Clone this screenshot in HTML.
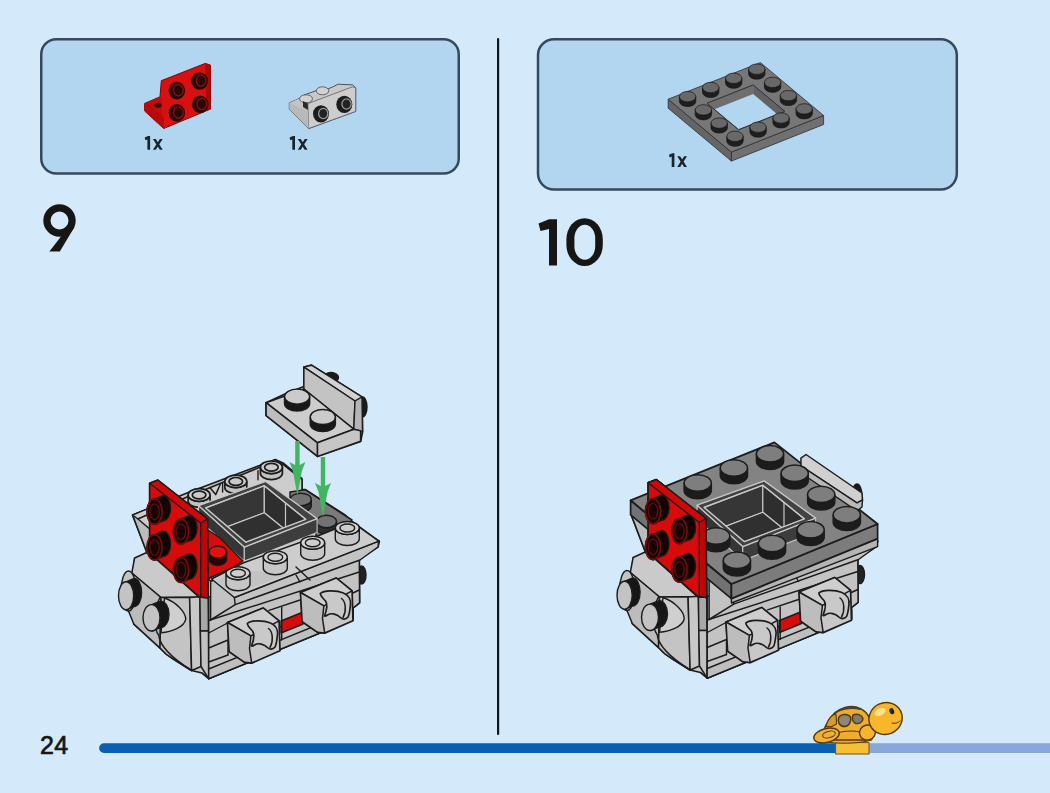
<!DOCTYPE html>
<html><head><meta charset="utf-8"><title>Instructions page 24</title>
<style>
html,body{margin:0;padding:0;width:1050px;height:793px;overflow:hidden;background:#d4eafa}
svg{display:block;font-family:"Liberation Sans",sans-serif}
</style></head><body>
<svg width="1050" height="793" viewBox="0 0 1050 793">
<rect width="1050" height="793" fill="#d4eafa"/>
<!-- parts boxes -->
<rect x="41.25" y="39.25" width="417.5" height="134.2" rx="15" fill="#b2d5f0" stroke="#34495a" stroke-width="2.5"/>
<rect x="538" y="39.25" width="418.8" height="150.2" rx="16" fill="#b2d5f0" stroke="#34495a" stroke-width="2.5"/>
<!-- divider -->
<rect x="497" y="38" width="2.2" height="697" rx="1" fill="#0d1820"/>
<!-- bottom bar -->
<path d="M104 743.2 H835.5 V753 H104 A4.9 4.9 0 0 1 104 743.2Z" fill="#0b5fb0"/>
<rect x="869" y="743.2" width="181" height="9.8" fill="#88a8dc"/>
<!-- page number -->
<text x="40" y="754" font-size="25" fill="#161616" stroke="#161616" stroke-width="0.7" letter-spacing="0.3">24</text>


<!-- part A: red bracket -->
<g id="partA" stroke-linejoin="round">
  <path d="M144.7 103.4 L160 96.8 L161.3 80.7 L205.3 63.4 L210.5 65.1 L210.5 109.1 L163.7 128.5 L144.7 111 Z" fill="#d81010" stroke="#7a0606" stroke-width="1"/>
  <path d="M144.7 103.4 L160 96.8 L162 98.5 L162.5 127.5 L163.7 128.5 L144.7 111 Z" fill="#c40c0c"/>
  <path d="M144.7 103.4 L147 102.5 L164 118 L163.7 128.5 L144.7 111 Z" fill="#b80a0a"/>
  <path d="M205.3 63.4 L210.5 65.1 L210.5 109.1 L206.2 111 Z" fill="#b00808"/>
  <ellipse cx="158" cy="105.3" rx="3.5" ry="2.5" fill="#3a0808"/>
  <g fill="#2a0606">
    <ellipse cx="176.8" cy="90.6" rx="8.3" ry="8.8"/>
    <ellipse cx="199.6" cy="81" rx="8.3" ry="8.8"/>
    <ellipse cx="176.8" cy="112.9" rx="8.3" ry="8.8"/>
    <ellipse cx="200.3" cy="104.4" rx="8.3" ry="8.8"/>
  </g>
  <g fill="none" stroke="#8a1010" stroke-width="1.3">
    <ellipse cx="178.3" cy="90.2" rx="4.8" ry="5.6"/>
    <ellipse cx="201.1" cy="80.6" rx="4.8" ry="5.6"/>
    <ellipse cx="178.3" cy="112.5" rx="4.8" ry="5.6"/>
    <ellipse cx="201.8" cy="104" rx="4.8" ry="5.6"/>
  </g>
</g>
<!-- part B: light gray bracket -->
<g id="partB" stroke-linejoin="round">
  <path d="M289.3 102.9 L301.4 97.5 L304 95 L318 90 L322 91.5 L333 86.8 L338 84.2 L344 84.5 L352.5 84.8 L355.7 87.9 L355.7 111.4 L308.6 128.6 L289.3 109.3 Z" fill="#c8c8c8" stroke="#4a5560" stroke-width="1"/>
  <path d="M307.9 103.6 L352.5 86.8 L355.7 87.9 L355.7 111.4 L308.6 128.6 Z" fill="#cdcdcd" stroke="#56606a" stroke-width="0.8"/>
  <path d="M289.3 102.9 L307.9 110.8 L308.6 128.6 L289.3 109.3 Z" fill="#b9b9b9"/>
  <path d="M289.3 102.9 L301.4 97.5 L307.9 103.6 L307.9 110.8 Z" fill="#c4c4c4"/>
  <ellipse cx="306" cy="98.8" rx="6.5" ry="4" fill="#d2d2d2" stroke="#4a4a4a" stroke-width="0.8"/>
  <ellipse cx="322.5" cy="90.8" rx="6.3" ry="4" fill="#d2d2d2" stroke="#4a4a4a" stroke-width="0.8"/>
  <path d="M303 101 L307.9 103.6 L307.9 110 L303 107 Z" fill="#2a2a2a"/>
  <g fill="#1c1c1c">
    <ellipse cx="321" cy="113.8" rx="8" ry="8.6"/>
    <ellipse cx="344.3" cy="104.3" rx="8" ry="8.6"/>
  </g>
  <g fill="#222" stroke="#9a9a9a" stroke-width="1.3">
    <ellipse cx="323.2" cy="113.5" rx="4.6" ry="5.2"/>
    <ellipse cx="346.5" cy="104" rx="4.6" ry="5.2"/>
  </g>
</g>

<!-- step numbers -->
<g id="num9" fill="#161616">
  <circle cx="59.5" cy="220.5" r="12.6" fill="none" stroke="#161616" stroke-width="7.2"/>
  <path d="M66 230 L74.5 227 L59.8 251.6 L49.4 251.6 Z"/>
</g>
<g id="num10" fill="#161616">
  <path d="M549 219.2 H557 V265.5 H549 V229 L540.5 231 L538.5 223.6 Z"/>
  <rect x="566.4" y="218.2" width="36.4" height="47.8" rx="18.2" ry="21" fill="#161616"/>
  <rect x="574.4" y="224.8" width="20.8" height="35" rx="10.4" ry="13.5" fill="#d4eafa"/>
</g>

<!-- 1x labels -->
<defs>
<g id="onex" fill="#18232d">
  <path d="M0 1.6 L3.4 0 H5.4 V13.7 H2.7 V3.4 L0.7 4.2 Z"/>
  <path d="M8.2 3.1 H11.1 L18 13.7 H15.1 Z"/>
  <path d="M15.2 3.1 H18 L11.1 13.7 H8.2 Z"/>
</g>
</defs>
<use href="#onex" x="144.7" y="136"/>
<use href="#onex" x="289.6" y="136"/>
<use href="#onex" x="669" y="153.2"/>


<polygon points="668.2,99.2 731.4,152.1 731.4,161.1 668.2,108.2" fill="#656565" stroke="#2a2f35" stroke-width="0.8" stroke-linejoin="round"/>
<polygon points="731.4,152.1 823.6,115.5 823.6,124.5 731.4,161.1" fill="#707070" stroke="#2a2f35" stroke-width="0.8" stroke-linejoin="round"/>
<path d="M668.2 99.2 L760.4 62.6 L823.6 115.5 L731.4 152.1 Z M707.0 103.3 L753.1 85.0 L784.8 111.4 L738.6 129.7 Z" fill="#777777" fill-rule="evenodd" stroke="#2a2f35" stroke-width="0.8" stroke-linejoin="round"/>
<clipPath id="holeC"><polygon points="707,103.3 753.1,85 784.8,111.4 738.6,129.7"/></clipPath>
<g clip-path="url(#holeC)">
<polygon points="707,103.3 753.1,85 753.1,94 707,112.3" fill="#6e6e6e"/>
<polygon points="753.1,85 784.8,111.4 784.8,120.4 753.1,94" fill="#626262"/>
</g>
<polygon points="707,103.3 753.1,85 784.8,111.4 738.6,129.7" fill="none" stroke="#2a2f35" stroke-width="0.8"/>
<path d="M748.6 69.2 A8.2 5.2 0 0 0 765 69.2 V74 A8.2 5.2 0 0 1 748.6 74 Z" fill="#1e1e1e" stroke="#151515" stroke-width="0.7"/>
<ellipse cx="756.8" cy="69.2" rx="8.2" ry="5.2" fill="#686868" stroke="#151515" stroke-width="0.7"/>
<path d="M725.5 78.3 A8.2 5.2 0 0 0 741.9 78.3 V83.1 A8.2 5.2 0 0 1 725.5 83.1 Z" fill="#1e1e1e" stroke="#151515" stroke-width="0.7"/>
<ellipse cx="733.7" cy="78.3" rx="8.2" ry="5.2" fill="#686868" stroke="#151515" stroke-width="0.7"/>
<path d="M764.4 82.4 A8.2 5.2 0 0 0 780.8 82.4 V87.2 A8.2 5.2 0 0 1 764.4 87.2 Z" fill="#1e1e1e" stroke="#151515" stroke-width="0.7"/>
<ellipse cx="772.6" cy="82.4" rx="8.2" ry="5.2" fill="#686868" stroke="#151515" stroke-width="0.7"/>
<path d="M702.5 87.5 A8.2 5.2 0 0 0 718.9 87.5 V92.3 A8.2 5.2 0 0 1 702.5 92.3 Z" fill="#1e1e1e" stroke="#151515" stroke-width="0.7"/>
<ellipse cx="710.7" cy="87.5" rx="8.2" ry="5.2" fill="#686868" stroke="#151515" stroke-width="0.7"/>
<path d="M780.2 95.6 A8.2 5.2 0 0 0 796.6 95.6 V100.4 A8.2 5.2 0 0 1 780.2 100.4 Z" fill="#1e1e1e" stroke="#151515" stroke-width="0.7"/>
<ellipse cx="788.4" cy="95.6" rx="8.2" ry="5.2" fill="#686868" stroke="#151515" stroke-width="0.7"/>
<path d="M679.4 96.6 A8.2 5.2 0 0 0 695.8 96.6 V101.4 A8.2 5.2 0 0 1 679.4 101.4 Z" fill="#1e1e1e" stroke="#151515" stroke-width="0.7"/>
<ellipse cx="687.6" cy="96.6" rx="8.2" ry="5.2" fill="#686868" stroke="#151515" stroke-width="0.7"/>
<path d="M796 108.9 A8.2 5.2 0 0 0 812.4 108.9 V113.7 A8.2 5.2 0 0 1 796 113.7 Z" fill="#1e1e1e" stroke="#151515" stroke-width="0.7"/>
<ellipse cx="804.2" cy="108.9" rx="8.2" ry="5.2" fill="#686868" stroke="#151515" stroke-width="0.7"/>
<path d="M695.2 109.9 A8.2 5.2 0 0 0 711.6 109.9 V114.7 A8.2 5.2 0 0 1 695.2 114.7 Z" fill="#1e1e1e" stroke="#151515" stroke-width="0.7"/>
<ellipse cx="703.4" cy="109.9" rx="8.2" ry="5.2" fill="#686868" stroke="#151515" stroke-width="0.7"/>
<path d="M772.9 118 A8.2 5.2 0 0 0 789.3 118 V122.8 A8.2 5.2 0 0 1 772.9 122.8 Z" fill="#1e1e1e" stroke="#151515" stroke-width="0.7"/>
<ellipse cx="781.1" cy="118" rx="8.2" ry="5.2" fill="#686868" stroke="#151515" stroke-width="0.7"/>
<path d="M711 123.1 A8.2 5.2 0 0 0 727.4 123.1 V127.9 A8.2 5.2 0 0 1 711 127.9 Z" fill="#1e1e1e" stroke="#151515" stroke-width="0.7"/>
<ellipse cx="719.2" cy="123.1" rx="8.2" ry="5.2" fill="#686868" stroke="#151515" stroke-width="0.7"/>
<path d="M749.9 127.2 A8.2 5.2 0 0 0 766.3 127.2 V132 A8.2 5.2 0 0 1 749.9 132 Z" fill="#1e1e1e" stroke="#151515" stroke-width="0.7"/>
<ellipse cx="758.1" cy="127.2" rx="8.2" ry="5.2" fill="#686868" stroke="#151515" stroke-width="0.7"/>
<path d="M726.8 136.3 A8.2 5.2 0 0 0 743.2 136.3 V141.1 A8.2 5.2 0 0 1 726.8 141.1 Z" fill="#1e1e1e" stroke="#151515" stroke-width="0.7"/>
<ellipse cx="735" cy="136.3" rx="8.2" ry="5.2" fill="#686868" stroke="#151515" stroke-width="0.7"/>
<ellipse cx="361.5" cy="575" rx="4.5" ry="9" fill="#222" stroke="#1c1c1c" stroke-width="1.4"/>
<polygon points="132.6,515.1 187,493 275.3,459.5 283,463 302,478.6 302,489.5 305,489.5 344.7,514.7 358,528 379.3,541.3 378,547 359.3,558.7 359.6,602.8 353,608 353,619.4 208.7,678.7 202,673 191.6,670.5 182,664.5 173.6,659.2 166,654 160,648 133.8,624 133.6,569.6 134.7,558.5 147.3,553.4" fill="#c8c8c8" stroke="#1c1c1c" stroke-width="1.7" stroke-linejoin="round"/>
<polygon points="134.6,558 150,551 199.9,590 199.9,597 161,597.5 131.8,573" fill="#cacaca" stroke="#1c1c1c" stroke-width="1.5" stroke-linejoin="round"/>
<polygon points="131.8,573 161,597.5 160,648 133.8,624 124,600" fill="#bcbcbc" stroke="#1c1c1c" stroke-width="1.5" stroke-linejoin="round"/>
<polygon points="161,597.5 189.6,597.5 191.6,670.5 182,664.5 173.6,659.2 166,654 160,648" fill="#c4c4c4" stroke="#1c1c1c" stroke-width="1.5" stroke-linejoin="round"/>
<polygon points="189.6,597.5 199.9,596.8 201,666.5 191.6,670.5" fill="#c8c8c8" stroke="#1c1c1c" stroke-width="1.5" stroke-linejoin="round"/>
<polygon points="199.9,596.8 208.2,597 208.5,631 200.3,631" fill="#a8a8a8" stroke="#1c1c1c" stroke-width="1.5" stroke-linejoin="round"/>
<polygon points="200.3,631 208.5,631 208.7,678.7 201,666.5" fill="#c2c2c2" stroke="#1c1c1c" stroke-width="1.5" stroke-linejoin="round"/>
<path d="M160 597.5 C154 608 153 628 158.8 635.4 C160 648 175 660 191.6 670.5" fill="none" stroke="#1c1c1c" stroke-width="1.5" stroke-linejoin="round" stroke-linecap="round"/>
<path d="M164.5 598 C176 602 186 612 185.7 619.5 C184 627 172 632 161 632.7 Z" fill="#cfcfcf" stroke="#1c1c1c" stroke-width="1.4" stroke-linejoin="round" stroke-linecap="round"/>
<ellipse cx="128.5" cy="591" rx="7.5" ry="20" fill="#c4c4c4" stroke="#1c1c1c" stroke-width="1.4"/>
<path d="M126.1 581.8 L134 578.5 A7.6 14 0 0 1 134 606.5 L126.1 609.8 A7.6 14 0 0 0 126.1 581.8 Z" fill="#161616" stroke="#1c1c1c" stroke-width="1.4"/>
<ellipse cx="126.1" cy="595.8" rx="7.6" ry="14" fill="#c3c3c3" stroke="#1c1c1c" stroke-width="1.4"/>
<path d="M151.5 604.6 L160.5 601.1 A8.5 13.2 0 0 1 160.5 627.5 L151.5 631 A8.5 13.2 0 0 0 151.5 604.6 Z" fill="#161616" stroke="#1c1c1c" stroke-width="1.4"/>
<ellipse cx="151.5" cy="617.8" rx="8.5" ry="13.2" fill="#c3c3c3" stroke="#1c1c1c" stroke-width="1.4"/>
<polygon points="132.6,515.1 150,508 150,553.4 147.3,553.4" fill="#bcbcbc" stroke="#1c1c1c" stroke-width="1.5" stroke-linejoin="round"/>
<polygon points="132.6,515.1 146,509.5 152,513 138,519" fill="#cdcdcd" stroke="#1c1c1c" stroke-width="1.3" stroke-linejoin="round"/>
<polygon points="208.7,597 359.3,558.7 359.6,602.8 353,608 353,619.4 208.7,678.7" fill="#c3c3c3" stroke="#1c1c1c" stroke-width="1.5" stroke-linejoin="round"/>
<polyline points="208.7,620.5 359.3,572" fill="none" stroke="#1c1c1c" stroke-width="1.4" stroke-linejoin="round" stroke-linecap="round"/>
<polyline points="208.7,633 227.5,623" fill="none" stroke="#1c1c1c" stroke-width="1.4" stroke-linejoin="round" stroke-linecap="round"/>
<polyline points="269,610.3 300,600" fill="none" stroke="#1c1c1c" stroke-width="1.4" stroke-linejoin="round" stroke-linecap="round"/>
<polyline points="208.7,648 228,640" fill="none" stroke="#1c1c1c" stroke-width="1.4" stroke-linejoin="round" stroke-linecap="round"/>
<polyline points="208.7,662 228,655" fill="none" stroke="#1c1c1c" stroke-width="1.4" stroke-linejoin="round" stroke-linecap="round"/>
<polyline points="228,640 228,655" fill="none" stroke="#1c1c1c" stroke-width="1.4" stroke-linejoin="round" stroke-linecap="round"/>
<polyline points="278,628 359.3,590" fill="none" stroke="#1c1c1c" stroke-width="1.4" stroke-linejoin="round" stroke-linecap="round"/>
<polygon points="208.7,669 353,610.5 353,619.4 208.7,678.7" fill="#bfbfbf" stroke="#1c1c1c" stroke-width="1.4" stroke-linejoin="round"/>
<polygon points="281,621 302,612.5 303,624 281,633" fill="#d80b0b" stroke="#1c1c1c" stroke-width="1.4" stroke-linejoin="round"/>
<polyline points="281.7,607.5 281.7,640" fill="none" stroke="#1c1c1c" stroke-width="1.4" stroke-linejoin="round" stroke-linecap="round"/>
<polygon points="227.5,622.5 263.2,608 279.1,620.8 280,650.8 251.7,663.1 244.6,662.3 229.2,651.7" fill="#c8c8c8" stroke="#1c1c1c" stroke-width="1.7" stroke-linejoin="round"/>
<polygon points="227.5,622.5 263.2,608 279.1,620.8 250.9,635.8" fill="#cecece" stroke="#1c1c1c" stroke-width="1.5" stroke-linejoin="round"/>
<polygon points="227.5,622.5 250.9,635.8 249.5,648.5 251.7,663.1 244.6,662.3 229.2,651.7" fill="#bdbdbd" stroke="#1c1c1c" stroke-width="1.5" stroke-linejoin="round"/>
<path d="M247.3 623.5 C250.5 620 263.5 620 270.5 623 C276 625.5 278 630.5 277.5 634.5 C277 639.5 276.5 644.5 275 647 C272.5 650 269.5 649.5 268 648 C264 644 258.5 642.5 254.5 645 C253 646 252 646.5 251.5 646 C254 639.5 255 634.5 252.5 631 C249.5 628 247.5 626 247.3 623.5 Z" fill="#c9c9c9" stroke="#1c1c1c" stroke-width="1.7" stroke-linejoin="round" stroke-linecap="round"/>
<path d="M268.5 628.5 C273 631.5 273.5 641.5 270 647.5" fill="none" stroke="#1c1c1c" stroke-width="1.5" stroke-linejoin="round" stroke-linecap="round"/>
<polygon points="300.5,592.5 336.2,578 352.1,590.8 353,620.8 324.7,633.1 317.6,632.3 302.2,621.7" fill="#c8c8c8" stroke="#1c1c1c" stroke-width="1.7" stroke-linejoin="round"/>
<polygon points="300.5,592.5 336.2,578 352.1,590.8 323.9,605.8" fill="#cecece" stroke="#1c1c1c" stroke-width="1.5" stroke-linejoin="round"/>
<polygon points="300.5,592.5 323.9,605.8 322.5,618.5 324.7,633.1 317.6,632.3 302.2,621.7" fill="#bdbdbd" stroke="#1c1c1c" stroke-width="1.5" stroke-linejoin="round"/>
<path d="M320.3 593.5 C323.5 590 336.5 590 343.5 593 C349 595.5 351 600.5 350.5 604.5 C350 609.5 349.5 614.5 348 617 C345.5 620 342.5 619.5 341 618 C337 614 331.5 612.5 327.5 615 C326 616 325 616.5 324.5 616 C327 609.5 328 604.5 325.5 601 C322.5 598 320.5 596 320.3 593.5 Z" fill="#c9c9c9" stroke="#1c1c1c" stroke-width="1.7" stroke-linejoin="round" stroke-linecap="round"/>
<path d="M341.5 598.5 C346 601.5 346.5 611.5 343 617.5" fill="none" stroke="#1c1c1c" stroke-width="1.5" stroke-linejoin="round" stroke-linecap="round"/>
<polygon points="210.6,581 378.8,541.1 378,547 360,560 235.2,604.6 210.6,620" fill="#c3c3c3" stroke="#1c1c1c" stroke-width="1.5" stroke-linejoin="round"/>
<polyline points="234.4,597.5 378.8,541.1" fill="none" stroke="#1c1c1c" stroke-width="1.4" stroke-linejoin="round" stroke-linecap="round"/>
<polyline points="235.2,604.6 234.4,597.5" fill="none" stroke="#1c1c1c" stroke-width="1.4" stroke-linejoin="round" stroke-linecap="round"/>
<polyline points="296,575 300,582" fill="none" stroke="#1c1c1c" stroke-width="1.4" stroke-linejoin="round" stroke-linecap="round"/>
<polygon points="138,519 187,497 275.3,461 283,464.5 302,479.5 302,490 345,516 378.8,541.1 210.6,581" fill="#cdcdcd" stroke="#1c1c1c" stroke-width="1.5" stroke-linejoin="round"/>
<path d="M188.1 495 A11 6.3 0 0 0 210.1 495 V501 A11 6.3 0 0 1 188.1 501 Z" fill="#c2c2c2" stroke="#1c1c1c" stroke-width="1.7"/>
<ellipse cx="199.1" cy="495" rx="11" ry="6.3" fill="#cfcfcf" stroke="#1c1c1c" stroke-width="1.7"/>
<ellipse cx="199.1" cy="495" rx="6.8" ry="3.9" fill="#cacaca" stroke="#1c1c1c" stroke-width="1.7"/>
<path d="M224.8 481.4 A11 6.3 0 0 0 246.8 481.4 V487.4 A11 6.3 0 0 1 224.8 487.4 Z" fill="#c2c2c2" stroke="#1c1c1c" stroke-width="1.7"/>
<ellipse cx="235.8" cy="481.4" rx="11" ry="6.3" fill="#cfcfcf" stroke="#1c1c1c" stroke-width="1.7"/>
<ellipse cx="235.8" cy="481.4" rx="6.8" ry="3.9" fill="#cacaca" stroke="#1c1c1c" stroke-width="1.7"/>
<path d="M260.4 467.3 A11 6.3 0 0 0 282.4 467.3 V473.3 A11 6.3 0 0 1 260.4 473.3 Z" fill="#c2c2c2" stroke="#1c1c1c" stroke-width="1.7"/>
<ellipse cx="271.4" cy="467.3" rx="11" ry="6.3" fill="#cfcfcf" stroke="#1c1c1c" stroke-width="1.7"/>
<ellipse cx="271.4" cy="467.3" rx="6.8" ry="3.9" fill="#cacaca" stroke="#1c1c1c" stroke-width="1.7"/>
<polyline points="210,487.7 215.7,494.6 220.3,484.3" fill="none" stroke="#1c1c1c" stroke-width="1.5" stroke-linejoin="round" stroke-linecap="round"/>
<polyline points="222.6,483 222.6,492" fill="none" stroke="#1c1c1c" stroke-width="1.4" stroke-linejoin="round" stroke-linecap="round"/>
<polyline points="258,470.6 258,479.7" fill="none" stroke="#1c1c1c" stroke-width="1.4" stroke-linejoin="round" stroke-linecap="round"/>
<polygon points="290,492 305,489.7 352,520 340,530 316,536.5 316,519.7 290,500" fill="#7a7a7a" stroke="#1c1c1c" stroke-width="1.5" stroke-linejoin="round"/>
<path d="M290.3 499.4 A10.5 6.2 0 0 0 311.3 499.4 V505.9 A10.5 6.2 0 0 1 290.3 505.9 Z" fill="#2e2e2e" stroke="#1c1c1c" stroke-width="1.4"/>
<ellipse cx="300.8" cy="499.4" rx="10.5" ry="6.2" fill="#737373" stroke="#1c1c1c" stroke-width="1.4"/>
<path d="M316.5 521.5 A10 6.2 0 0 0 336.5 521.5 V528 A10 6.2 0 0 1 316.5 528 Z" fill="#2e2e2e" stroke="#1c1c1c" stroke-width="1.4"/>
<ellipse cx="326.5" cy="521.5" rx="10" ry="6.2" fill="#737373" stroke="#1c1c1c" stroke-width="1.4"/>
<polygon points="198.6,505.7 244.3,547.1 244.3,561.1 198.6,519.7" fill="#353535" stroke="#c8c8c8" stroke-width="1.1" stroke-linejoin="round"/>
<polygon points="244.3,547.1 317.1,518.6 317.1,532.6 244.3,561.1" fill="#3d3d3d" stroke="#c8c8c8" stroke-width="1.1" stroke-linejoin="round"/>
<polygon points="198.6,505.7 265.7,481.4 317.1,518.6 244.3,547.1" fill="#424242" stroke="#c8c8c8" stroke-width="1.3" stroke-linejoin="round"/>
<polygon points="205.7,507.9 264.3,485.7 305.7,519.3 245.7,542.1" fill="#2f2f2f" stroke="#c8c8c8" stroke-width="1.2" stroke-linejoin="round"/>
<clipPath id="cc0"><polygon points="205.7,507.9 264.3,485.7 305.7,519.3 245.7,542.1"/></clipPath>
<g clip-path="url(#cc0)">
<polygon points="205.7,507.9 264.3,485.7 264.3,512.7 205.7,534.9" fill="#363636" stroke="#c8c8c8" stroke-width="1.2" stroke-linejoin="round"/>
<polygon points="264.3,485.7 305.7,519.3 305.7,546.3 264.3,512.7" fill="#2e2e2e" stroke="#c8c8c8" stroke-width="1.2" stroke-linejoin="round"/>
<polygon points="205.7,534.9 264.3,512.7 305.7,546.3 245.7,569.1" fill="#303030" stroke="#c8c8c8" stroke-width="1.2" stroke-linejoin="round"/>
<polyline points="285.5,502 285.5,528" fill="none" stroke="#c8c8c8" stroke-width="1.2" stroke-linejoin="round" stroke-linecap="round"/>
<polyline points="285.5,502 306,517" fill="none" stroke="#c8c8c8" stroke-width="1.2" stroke-linejoin="round" stroke-linecap="round"/>
</g>
<polygon points="205.7,507.9 264.3,485.7 305.7,519.3 245.7,542.1" fill="none" stroke="#c8c8c8" stroke-width="1.3" stroke-linejoin="round"/>
<polygon points="211.5,579 243,563 316.5,536.5 352,522 378.8,541.1 234.4,597.5" fill="#cdcdcd" stroke="#1c1c1c" stroke-width="1.5" stroke-linejoin="round"/>
<polyline points="296,567 310,580" fill="none" stroke="#1c1c1c" stroke-width="1.4" stroke-linejoin="round" stroke-linecap="round"/>
<polygon points="216,580 240,570 290,574 232,594" fill="#c3c3c3"/>
<path d="M226 573.3 A12 6.5 0 0 0 250 573.3 V584.3 A12 6.5 0 0 1 226 584.3 Z" fill="#c6c6c6" stroke="#1c1c1c" stroke-width="1.4"/>
<ellipse cx="238" cy="573.3" rx="12" ry="6.5" fill="#d2d2d2" stroke="#1c1c1c" stroke-width="1.4"/>
<ellipse cx="238" cy="573.3" rx="7.4" ry="4" fill="#cdcdcd" stroke="#1c1c1c" stroke-width="1.4"/>
<path d="M263.3 557.3 A12 6.5 0 0 0 287.3 557.3 V568.3 A12 6.5 0 0 1 263.3 568.3 Z" fill="#c6c6c6" stroke="#1c1c1c" stroke-width="1.4"/>
<ellipse cx="275.3" cy="557.3" rx="12" ry="6.5" fill="#d2d2d2" stroke="#1c1c1c" stroke-width="1.4"/>
<ellipse cx="275.3" cy="557.3" rx="7.4" ry="4" fill="#cdcdcd" stroke="#1c1c1c" stroke-width="1.4"/>
<path d="M300.7 542.7 A12 6.5 0 0 0 324.7 542.7 V553.7 A12 6.5 0 0 1 300.7 553.7 Z" fill="#c6c6c6" stroke="#1c1c1c" stroke-width="1.4"/>
<ellipse cx="312.7" cy="542.7" rx="12" ry="6.5" fill="#d2d2d2" stroke="#1c1c1c" stroke-width="1.4"/>
<ellipse cx="312.7" cy="542.7" rx="7.4" ry="4" fill="#cdcdcd" stroke="#1c1c1c" stroke-width="1.4"/>
<path d="M335.3 528 A12 6.5 0 0 0 359.3 528 V539 A12 6.5 0 0 1 335.3 539 Z" fill="#c6c6c6" stroke="#1c1c1c" stroke-width="1.4"/>
<ellipse cx="347.3" cy="528" rx="12" ry="6.5" fill="#d2d2d2" stroke="#1c1c1c" stroke-width="1.4"/>
<ellipse cx="347.3" cy="528" rx="7.4" ry="4" fill="#cdcdcd" stroke="#1c1c1c" stroke-width="1.4"/>
<polygon points="205,528 220,538 243,561 232,568 205,580" fill="#d80b0b" stroke="#1c1c1c" stroke-width="1.4" stroke-linejoin="round"/>
<path d="M209 552 A8.8 6 0 0 0 226.6 552 V559.5 A8.8 6 0 0 1 209 559.5 Z" fill="#2a0505" stroke="#1c1c1c" stroke-width="1.4"/>
<ellipse cx="217.8" cy="552" rx="8.8" ry="6" fill="#e51111" stroke="#1c1c1c" stroke-width="1.4"/>
<polygon points="149.6,483.2 157.8,480.1 207.5,519 208.2,598 199.2,597 149.6,553" fill="#d80b0b" stroke="#1c1c1c" stroke-width="1.7" stroke-linejoin="round"/>
<polygon points="149.6,483.2 157.8,480.1 207.5,519 200.7,523" fill="#cf0909" stroke="#1c1c1c" stroke-width="1.3" stroke-linejoin="round"/>
<polygon points="200.7,523 207.5,519 208.2,598 200.7,597" fill="#bd0606" stroke="#1c1c1c" stroke-width="1.3" stroke-linejoin="round"/>
<path d="M154.5 499.1 L163 495.6 A7.6 12.6 0 0 1 163 520.8 L154.5 524.3 A7.6 12.6 0 0 0 154.5 499.1 Z" fill="#120202" stroke="#1c1c1c" stroke-width="1.4"/>
<ellipse cx="154.5" cy="511.7" rx="7.6" ry="12.6" fill="#160303" stroke="#1c1c1c" stroke-width="1.4"/>
<ellipse cx="154.5" cy="511.7" rx="4.7" ry="7.8" fill="none" stroke="#6a0a0a" stroke-width="1.3"/>
<ellipse cx="154.5" cy="511.7" rx="7.6" ry="12.6" fill="none" stroke="#7a0909" stroke-width="1.5"/>
<path d="M181 519 L189.5 515.5 A7.6 12.6 0 0 1 189.5 540.7 L181 544.2 A7.6 12.6 0 0 0 181 519 Z" fill="#120202" stroke="#1c1c1c" stroke-width="1.4"/>
<ellipse cx="181" cy="531.6" rx="7.6" ry="12.6" fill="#160303" stroke="#1c1c1c" stroke-width="1.4"/>
<ellipse cx="181" cy="531.6" rx="4.7" ry="7.8" fill="none" stroke="#6a0a0a" stroke-width="1.3"/>
<ellipse cx="181" cy="531.6" rx="7.6" ry="12.6" fill="none" stroke="#7a0909" stroke-width="1.5"/>
<path d="M154.5 534.8 L163 531.3 A7.6 12.6 0 0 1 163 556.5 L154.5 560 A7.6 12.6 0 0 0 154.5 534.8 Z" fill="#120202" stroke="#1c1c1c" stroke-width="1.4"/>
<ellipse cx="154.5" cy="547.4" rx="7.6" ry="12.6" fill="#160303" stroke="#1c1c1c" stroke-width="1.4"/>
<ellipse cx="154.5" cy="547.4" rx="4.7" ry="7.8" fill="none" stroke="#6a0a0a" stroke-width="1.3"/>
<ellipse cx="154.5" cy="547.4" rx="7.6" ry="12.6" fill="none" stroke="#7a0909" stroke-width="1.5"/>
<path d="M181 557.4 L189.5 553.9 A7.6 12.6 0 0 1 189.5 579.1 L181 582.6 A7.6 12.6 0 0 0 181 557.4 Z" fill="#120202" stroke="#1c1c1c" stroke-width="1.4"/>
<ellipse cx="181" cy="570" rx="7.6" ry="12.6" fill="#160303" stroke="#1c1c1c" stroke-width="1.4"/>
<ellipse cx="181" cy="570" rx="4.7" ry="7.8" fill="none" stroke="#6a0a0a" stroke-width="1.3"/>
<ellipse cx="181" cy="570" rx="7.6" ry="12.6" fill="none" stroke="#7a0909" stroke-width="1.5"/>
<ellipse cx="331" cy="377.5" rx="7.5" ry="5" fill="#1a1a1a" stroke="#1c1c1c" stroke-width="1.4"/>
<ellipse cx="362.5" cy="407" rx="4.5" ry="10" fill="#1a1a1a" stroke="#1c1c1c" stroke-width="1.4"/>
<polygon points="266.1,402.7 286,393.5 303.9,386.5 303.9,367.1 311.5,365.2 362,397 362.5,432 360.6,441.3 317.5,456.4 266.1,415.5" fill="#c8c8c8" stroke="#1c1c1c" stroke-width="1.8" stroke-linejoin="round"/>
<polygon points="303.9,367.1 311.5,365.2 362,397 355,401" fill="#d2d2d2" stroke="#1c1c1c" stroke-width="1.4" stroke-linejoin="round"/>
<polygon points="303.9,367.1 355,401 353.8,429.2 303.9,389" fill="#c3c3c3" stroke="#1c1c1c" stroke-width="1.4" stroke-linejoin="round"/>
<polygon points="355,401 362,397 362.5,432 353.8,429.2" fill="#b5b5b5" stroke="#1c1c1c" stroke-width="1.4" stroke-linejoin="round"/>
<polygon points="266.1,402.7 303.9,389 353.8,429.2 317.5,442.8" fill="#cdcdcd" stroke="#1c1c1c" stroke-width="1.5" stroke-linejoin="round"/>
<polygon points="266.1,402.7 317.5,442.8 317.5,456.4 266.1,415.5" fill="#bdbdbd" stroke="#1c1c1c" stroke-width="1.5" stroke-linejoin="round"/>
<polygon points="317.5,442.8 353.8,429.2 360.6,430.7 360.6,441.3 317.5,456.4" fill="#c6c6c6" stroke="#1c1c1c" stroke-width="1.5" stroke-linejoin="round"/>
<path d="M284.5 396.6 A12.6 7.5 0 0 0 309.7 396.6 V403.6 A12.6 7.5 0 0 1 284.5 403.6 Z" fill="#181818" stroke="#1c1c1c" stroke-width="1.4"/>
<ellipse cx="297.1" cy="396.6" rx="12.6" ry="7.5" fill="#cbcbcb" stroke="#1c1c1c" stroke-width="1.4"/>
<path d="M310.2 417 A12.6 7.5 0 0 0 335.4 417 V424 A12.6 7.5 0 0 1 310.2 424 Z" fill="#181818" stroke="#1c1c1c" stroke-width="1.4"/>
<ellipse cx="322.8" cy="417" rx="12.6" ry="7.5" fill="#cbcbcb" stroke="#1c1c1c" stroke-width="1.4"/>
<rect x="295.2" y="441" width="4.4" height="25" fill="#42b562"/>
<polygon points="289.4,462 295.2,465 299.6,465 305.4,462 301.9,471 297.4,495.6 292.9,471" fill="#42b562"/>
<rect x="320.8" y="457" width="4.4" height="30" fill="#42b562"/>
<polygon points="315,483 320.8,486 325.2,486 331,483 327.5,492 323,517 318.5,492" fill="#42b562"/>
<ellipse cx="860" cy="574.5" rx="4.5" ry="9" fill="#222" stroke="#1c1c1c" stroke-width="1.4"/>
<polygon points="631.1,514.6 685.5,492.5 773.8,459 781.5,462.5 800.5,478.1 800.5,489 803.5,489 843.2,514.2 856.5,527.5 877.8,540.8 876.5,546.5 857.8,558.2 858.1,602.3 851.5,607.5 851.5,618.9 707.2,678.2 700.5,672.5 690.1,670 680.5,664 672.1,658.7 664.5,653.5 658.5,647.5 632.3,623.5 632.1,569.1 633.2,558 645.8,552.9" fill="#c8c8c8" stroke="#1c1c1c" stroke-width="1.7" stroke-linejoin="round"/>
<polygon points="633.1,557.5 648.5,550.5 698.4,589.5 698.4,596.5 659.5,597 630.3,572.5" fill="#cacaca" stroke="#1c1c1c" stroke-width="1.5" stroke-linejoin="round"/>
<polygon points="630.3,572.5 659.5,597 658.5,647.5 632.3,623.5 622.5,599.5" fill="#bcbcbc" stroke="#1c1c1c" stroke-width="1.5" stroke-linejoin="round"/>
<polygon points="659.5,597 688.1,597 690.1,670 680.5,664 672.1,658.7 664.5,653.5 658.5,647.5" fill="#c4c4c4" stroke="#1c1c1c" stroke-width="1.5" stroke-linejoin="round"/>
<polygon points="688.1,597 698.4,596.3 699.5,666 690.1,670" fill="#c8c8c8" stroke="#1c1c1c" stroke-width="1.5" stroke-linejoin="round"/>
<polygon points="698.4,596.3 706.7,596.5 707,630.5 698.8,630.5" fill="#a8a8a8" stroke="#1c1c1c" stroke-width="1.5" stroke-linejoin="round"/>
<polygon points="698.8,630.5 707,630.5 707.2,678.2 699.5,666" fill="#c2c2c2" stroke="#1c1c1c" stroke-width="1.5" stroke-linejoin="round"/>
<path d="M658.5 597 C652.5 607.5 651.5 627.5 657.3 634.9 C658.5 647.5 673.5 659.5 690.1 670" fill="none" stroke="#1c1c1c" stroke-width="1.5" stroke-linejoin="round" stroke-linecap="round"/>
<path d="M663 597.5 C674.5 601.5 684.5 611.5 684.2 619 C682.5 626.5 670.5 631.5 659.5 632.2 Z" fill="#cfcfcf" stroke="#1c1c1c" stroke-width="1.4" stroke-linejoin="round" stroke-linecap="round"/>
<ellipse cx="627" cy="590.5" rx="7.5" ry="20" fill="#c4c4c4" stroke="#1c1c1c" stroke-width="1.4"/>
<path d="M624.6 581.3 L632.5 578 A7.6 14 0 0 1 632.5 606 L624.6 609.3 A7.6 14 0 0 0 624.6 581.3 Z" fill="#161616" stroke="#1c1c1c" stroke-width="1.4"/>
<ellipse cx="624.6" cy="595.3" rx="7.6" ry="14" fill="#c3c3c3" stroke="#1c1c1c" stroke-width="1.4"/>
<path d="M650 604.1 L659 600.6 A8.5 13.2 0 0 1 659 627 L650 630.5 A8.5 13.2 0 0 0 650 604.1 Z" fill="#161616" stroke="#1c1c1c" stroke-width="1.4"/>
<ellipse cx="650" cy="617.3" rx="8.5" ry="13.2" fill="#c3c3c3" stroke="#1c1c1c" stroke-width="1.4"/>
<polygon points="631.1,514.6 648.5,507.5 648.5,552.9 645.8,552.9" fill="#bcbcbc" stroke="#1c1c1c" stroke-width="1.5" stroke-linejoin="round"/>
<polygon points="631.1,514.6 644.5,509 650.5,512.5 636.5,518.5" fill="#cdcdcd" stroke="#1c1c1c" stroke-width="1.3" stroke-linejoin="round"/>
<polygon points="707.2,596.5 857.8,558.2 858.1,602.3 851.5,607.5 851.5,618.9 707.2,678.2" fill="#c3c3c3" stroke="#1c1c1c" stroke-width="1.5" stroke-linejoin="round"/>
<polyline points="707.2,620 857.8,571.5" fill="none" stroke="#1c1c1c" stroke-width="1.4" stroke-linejoin="round" stroke-linecap="round"/>
<polyline points="707.2,632.5 726,622.5" fill="none" stroke="#1c1c1c" stroke-width="1.4" stroke-linejoin="round" stroke-linecap="round"/>
<polyline points="767.5,609.8 798.5,599.5" fill="none" stroke="#1c1c1c" stroke-width="1.4" stroke-linejoin="round" stroke-linecap="round"/>
<polyline points="707.2,647.5 726.5,639.5" fill="none" stroke="#1c1c1c" stroke-width="1.4" stroke-linejoin="round" stroke-linecap="round"/>
<polyline points="707.2,661.5 726.5,654.5" fill="none" stroke="#1c1c1c" stroke-width="1.4" stroke-linejoin="round" stroke-linecap="round"/>
<polyline points="726.5,639.5 726.5,654.5" fill="none" stroke="#1c1c1c" stroke-width="1.4" stroke-linejoin="round" stroke-linecap="round"/>
<polyline points="776.5,627.5 857.8,589.5" fill="none" stroke="#1c1c1c" stroke-width="1.4" stroke-linejoin="round" stroke-linecap="round"/>
<polygon points="707.2,668.5 851.5,610 851.5,618.9 707.2,678.2" fill="#bfbfbf" stroke="#1c1c1c" stroke-width="1.4" stroke-linejoin="round"/>
<polygon points="779.5,620.5 800.5,612 801.5,623.5 779.5,632.5" fill="#d80b0b" stroke="#1c1c1c" stroke-width="1.4" stroke-linejoin="round"/>
<polyline points="780.2,607 780.2,639.5" fill="none" stroke="#1c1c1c" stroke-width="1.4" stroke-linejoin="round" stroke-linecap="round"/>
<polygon points="726,622 761.7,607.5 777.6,620.3 778.5,650.3 750.2,662.6 743.1,661.8 727.7,651.2" fill="#c8c8c8" stroke="#1c1c1c" stroke-width="1.7" stroke-linejoin="round"/>
<polygon points="726,622 761.7,607.5 777.6,620.3 749.4,635.3" fill="#cecece" stroke="#1c1c1c" stroke-width="1.5" stroke-linejoin="round"/>
<polygon points="726,622 749.4,635.3 748,648 750.2,662.6 743.1,661.8 727.7,651.2" fill="#bdbdbd" stroke="#1c1c1c" stroke-width="1.5" stroke-linejoin="round"/>
<path d="M745.8 623 C749 619.5 762 619.5 769 622.5 C774.5 625 776.5 630 776 634 C775.5 639 775 644 773.5 646.5 C771 649.5 768 649 766.5 647.5 C762.5 643.5 757 642 753 644.5 C751.5 645.5 750.5 646 750 645.5 C752.5 639 753.5 634 751 630.5 C748 627.5 746 625.5 745.8 623 Z" fill="#c9c9c9" stroke="#1c1c1c" stroke-width="1.7" stroke-linejoin="round" stroke-linecap="round"/>
<path d="M767 628 C771.5 631 772 641 768.5 647" fill="none" stroke="#1c1c1c" stroke-width="1.5" stroke-linejoin="round" stroke-linecap="round"/>
<polygon points="799,592 834.7,577.5 850.6,590.3 851.5,620.3 823.2,632.6 816.1,631.8 800.7,621.2" fill="#c8c8c8" stroke="#1c1c1c" stroke-width="1.7" stroke-linejoin="round"/>
<polygon points="799,592 834.7,577.5 850.6,590.3 822.4,605.3" fill="#cecece" stroke="#1c1c1c" stroke-width="1.5" stroke-linejoin="round"/>
<polygon points="799,592 822.4,605.3 821,618 823.2,632.6 816.1,631.8 800.7,621.2" fill="#bdbdbd" stroke="#1c1c1c" stroke-width="1.5" stroke-linejoin="round"/>
<path d="M818.8 593 C822 589.5 835 589.5 842 592.5 C847.5 595 849.5 600 849 604 C848.5 609 848 614 846.5 616.5 C844 619.5 841 619 839.5 617.5 C835.5 613.5 830 612 826 614.5 C824.5 615.5 823.5 616 823 615.5 C825.5 609 826.5 604 824 600.5 C821 597.5 819 595.5 818.8 593 Z" fill="#c9c9c9" stroke="#1c1c1c" stroke-width="1.7" stroke-linejoin="round" stroke-linecap="round"/>
<path d="M840 598 C844.5 601 845 611 841.5 617" fill="none" stroke="#1c1c1c" stroke-width="1.5" stroke-linejoin="round" stroke-linecap="round"/>
<polygon points="709.1,580.5 877.3,540.6 876.5,546.5 858.5,559.5 733.7,604.1 709.1,619.5" fill="#c3c3c3" stroke="#1c1c1c" stroke-width="1.5" stroke-linejoin="round"/>
<polyline points="732.9,597 877.3,540.6" fill="none" stroke="#1c1c1c" stroke-width="1.4" stroke-linejoin="round" stroke-linecap="round"/>
<polyline points="733.7,604.1 732.9,597" fill="none" stroke="#1c1c1c" stroke-width="1.4" stroke-linejoin="round" stroke-linecap="round"/>
<polyline points="794.5,574.5 798.5,581.5" fill="none" stroke="#1c1c1c" stroke-width="1.4" stroke-linejoin="round" stroke-linecap="round"/>
<polygon points="703.5,527.5 718.5,537.5 741.5,560.5 730.5,567.5 703.5,579.5" fill="#d80b0b" stroke="#1c1c1c" stroke-width="1.4" stroke-linejoin="round"/>
<path d="M707.5 551.5 A8.8 6 0 0 0 725.1 551.5 V559 A8.8 6 0 0 1 707.5 559 Z" fill="#2a0505" stroke="#1c1c1c" stroke-width="1.4"/>
<ellipse cx="716.3" cy="551.5" rx="8.8" ry="6" fill="#e51111" stroke="#1c1c1c" stroke-width="1.4"/>
<polygon points="648.1,482.7 656.3,479.6 706,518.5 706.7,597.5 697.7,596.5 648.1,552.5" fill="#d80b0b" stroke="#1c1c1c" stroke-width="1.7" stroke-linejoin="round"/>
<polygon points="648.1,482.7 656.3,479.6 706,518.5 699.2,522.5" fill="#cf0909" stroke="#1c1c1c" stroke-width="1.3" stroke-linejoin="round"/>
<polygon points="699.2,522.5 706,518.5 706.7,597.5 699.2,596.5" fill="#bd0606" stroke="#1c1c1c" stroke-width="1.3" stroke-linejoin="round"/>
<path d="M653 498.6 L661.5 495.1 A7.6 12.6 0 0 1 661.5 520.3 L653 523.8 A7.6 12.6 0 0 0 653 498.6 Z" fill="#120202" stroke="#1c1c1c" stroke-width="1.4"/>
<ellipse cx="653" cy="511.2" rx="7.6" ry="12.6" fill="#160303" stroke="#1c1c1c" stroke-width="1.4"/>
<ellipse cx="653" cy="511.2" rx="4.7" ry="7.8" fill="none" stroke="#6a0a0a" stroke-width="1.3"/>
<ellipse cx="653" cy="511.2" rx="7.6" ry="12.6" fill="none" stroke="#7a0909" stroke-width="1.5"/>
<path d="M679.5 518.5 L688 515 A7.6 12.6 0 0 1 688 540.2 L679.5 543.7 A7.6 12.6 0 0 0 679.5 518.5 Z" fill="#120202" stroke="#1c1c1c" stroke-width="1.4"/>
<ellipse cx="679.5" cy="531.1" rx="7.6" ry="12.6" fill="#160303" stroke="#1c1c1c" stroke-width="1.4"/>
<ellipse cx="679.5" cy="531.1" rx="4.7" ry="7.8" fill="none" stroke="#6a0a0a" stroke-width="1.3"/>
<ellipse cx="679.5" cy="531.1" rx="7.6" ry="12.6" fill="none" stroke="#7a0909" stroke-width="1.5"/>
<path d="M653 534.3 L661.5 530.8 A7.6 12.6 0 0 1 661.5 556 L653 559.5 A7.6 12.6 0 0 0 653 534.3 Z" fill="#120202" stroke="#1c1c1c" stroke-width="1.4"/>
<ellipse cx="653" cy="546.9" rx="7.6" ry="12.6" fill="#160303" stroke="#1c1c1c" stroke-width="1.4"/>
<ellipse cx="653" cy="546.9" rx="4.7" ry="7.8" fill="none" stroke="#6a0a0a" stroke-width="1.3"/>
<ellipse cx="653" cy="546.9" rx="7.6" ry="12.6" fill="none" stroke="#7a0909" stroke-width="1.5"/>
<path d="M679.5 556.9 L688 553.4 A7.6 12.6 0 0 1 688 578.6 L679.5 582.1 A7.6 12.6 0 0 0 679.5 556.9 Z" fill="#120202" stroke="#1c1c1c" stroke-width="1.4"/>
<ellipse cx="679.5" cy="569.5" rx="7.6" ry="12.6" fill="#160303" stroke="#1c1c1c" stroke-width="1.4"/>
<ellipse cx="679.5" cy="569.5" rx="4.7" ry="7.8" fill="none" stroke="#6a0a0a" stroke-width="1.3"/>
<ellipse cx="679.5" cy="569.5" rx="7.6" ry="12.6" fill="none" stroke="#7a0909" stroke-width="1.5"/>
<ellipse cx="857" cy="496" rx="5" ry="12" fill="#1a1a1a" stroke="#1c1c1c" stroke-width="1.4"/>
<polygon points="731.4,598.6 877.6,538.6 877.6,546.7 731.4,603" fill="#b4b4b4" stroke="#1c1c1c" stroke-width="1.4" stroke-linejoin="round"/>
<polygon points="630.6,500.3 731.4,584 731.4,598.6 630.6,514.9" fill="#727272" stroke="#1c1c1c" stroke-width="1.7" stroke-linejoin="round"/>
<polygon points="731.4,584 877.6,524 877.6,538.6 731.4,598.6" fill="#7c7c7c" stroke="#1c1c1c" stroke-width="1.7" stroke-linejoin="round"/>
<polygon points="630.6,500.3 774.4,442.4 877.6,524 731.4,584" fill="#838383" stroke="#1c1c1c" stroke-width="1.8" stroke-linejoin="round"/>
<polygon points="800.9,458.2 806,454.5 862,493 862.5,500 857,503 801,466" fill="#d0d0d0" stroke="#1c1c1c" stroke-width="1.5" stroke-linejoin="round"/>
<polygon points="801,466 857,503 862.5,500 862,507 857,511 801,473" fill="#b9b9b9" stroke="#1c1c1c" stroke-width="1.4" stroke-linejoin="round"/>
<polygon points="697.1,505.2 742.8,546.6 742.8,560.6 697.1,519.2" fill="#353535" stroke="#c8c8c8" stroke-width="1.1" stroke-linejoin="round"/>
<polygon points="742.8,546.6 815.6,518.1 815.6,532.1 742.8,560.6" fill="#3d3d3d" stroke="#c8c8c8" stroke-width="1.1" stroke-linejoin="round"/>
<polygon points="697.1,505.2 764.2,480.9 815.6,518.1 742.8,546.6" fill="#424242" stroke="#c8c8c8" stroke-width="1.3" stroke-linejoin="round"/>
<polygon points="704.2,507.4 762.8,485.2 804.2,518.8 744.2,541.6" fill="#2f2f2f" stroke="#c8c8c8" stroke-width="1.2" stroke-linejoin="round"/>
<clipPath id="cc498"><polygon points="704.2,507.4 762.8,485.2 804.2,518.8 744.2,541.6"/></clipPath>
<g clip-path="url(#cc498)">
<polygon points="704.2,507.4 762.8,485.2 762.8,512.2 704.2,534.4" fill="#363636" stroke="#c8c8c8" stroke-width="1.2" stroke-linejoin="round"/>
<polygon points="762.8,485.2 804.2,518.8 804.2,545.8 762.8,512.2" fill="#2e2e2e" stroke="#c8c8c8" stroke-width="1.2" stroke-linejoin="round"/>
<polygon points="704.2,534.4 762.8,512.2 804.2,545.8 744.2,568.6" fill="#303030" stroke="#c8c8c8" stroke-width="1.2" stroke-linejoin="round"/>
<polyline points="784,501.5 784,527.5" fill="none" stroke="#c8c8c8" stroke-width="1.2" stroke-linejoin="round" stroke-linecap="round"/>
<polyline points="784,501.5 804.5,516.5" fill="none" stroke="#c8c8c8" stroke-width="1.2" stroke-linejoin="round" stroke-linecap="round"/>
</g>
<polygon points="704.2,507.4 762.8,485.2 804.2,518.8 744.2,541.6" fill="none" stroke="#c8c8c8" stroke-width="1.3" stroke-linejoin="round"/>
<path d="M756.4 453.8 A13.6 8.2 0 0 0 783.6 453.8 V461.3 A13.6 8.2 0 0 1 756.4 461.3 Z" fill="#1c1c1c" stroke="#1c1c1c" stroke-width="1.5"/>
<ellipse cx="770" cy="453.8" rx="13.6" ry="8.2" fill="#7e7e7e" stroke="#1c1c1c" stroke-width="1.5"/>
<path d="M720.3 468 A13.6 8.2 0 0 0 747.5 468 V475.5 A13.6 8.2 0 0 1 720.3 475.5 Z" fill="#1c1c1c" stroke="#1c1c1c" stroke-width="1.5"/>
<ellipse cx="733.9" cy="468" rx="13.6" ry="8.2" fill="#7e7e7e" stroke="#1c1c1c" stroke-width="1.5"/>
<path d="M781.1 473.3 A13.6 8.2 0 0 0 808.3 473.3 V480.8 A13.6 8.2 0 0 1 781.1 480.8 Z" fill="#1c1c1c" stroke="#1c1c1c" stroke-width="1.5"/>
<ellipse cx="794.7" cy="473.3" rx="13.6" ry="8.2" fill="#7e7e7e" stroke="#1c1c1c" stroke-width="1.5"/>
<path d="M684.1 483 A13.6 8.2 0 0 0 711.3 483 V490.5 A13.6 8.2 0 0 1 684.1 490.5 Z" fill="#1c1c1c" stroke="#1c1c1c" stroke-width="1.5"/>
<ellipse cx="697.7" cy="483" rx="13.6" ry="8.2" fill="#7e7e7e" stroke="#1c1c1c" stroke-width="1.5"/>
<path d="M807.6 494.4 A13.6 8.2 0 0 0 834.8 494.4 V501.9 A13.6 8.2 0 0 1 807.6 501.9 Z" fill="#1c1c1c" stroke="#1c1c1c" stroke-width="1.5"/>
<ellipse cx="821.2" cy="494.4" rx="13.6" ry="8.2" fill="#7e7e7e" stroke="#1c1c1c" stroke-width="1.5"/>
<path d="M647.9 498 A13.6 8.2 0 0 0 675.1 498 V505.5 A13.6 8.2 0 0 1 647.9 505.5 Z" fill="#1c1c1c" stroke="#1c1c1c" stroke-width="1.5"/>
<ellipse cx="661.5" cy="498" rx="13.6" ry="8.2" fill="#7e7e7e" stroke="#1c1c1c" stroke-width="1.5"/>
<path d="M833.2 514.7 A13.6 8.2 0 0 0 860.4 514.7 V522.2 A13.6 8.2 0 0 1 833.2 522.2 Z" fill="#1c1c1c" stroke="#1c1c1c" stroke-width="1.5"/>
<ellipse cx="846.8" cy="514.7" rx="13.6" ry="8.2" fill="#7e7e7e" stroke="#1c1c1c" stroke-width="1.5"/>
<path d="M674.4 517 A13.6 8.2 0 0 0 701.6 517 V524.5 A13.6 8.2 0 0 1 674.4 524.5 Z" fill="#1c1c1c" stroke="#1c1c1c" stroke-width="1.5"/>
<ellipse cx="688" cy="517" rx="13.6" ry="8.2" fill="#7e7e7e" stroke="#1c1c1c" stroke-width="1.5"/>
<path d="M797 529.8 A13.6 8.2 0 0 0 824.2 529.8 V537.3 A13.6 8.2 0 0 1 797 537.3 Z" fill="#1c1c1c" stroke="#1c1c1c" stroke-width="1.5"/>
<ellipse cx="810.6" cy="529.8" rx="13.6" ry="8.2" fill="#7e7e7e" stroke="#1c1c1c" stroke-width="1.5"/>
<path d="M702.6 536 A13.6 8.2 0 0 0 729.8 536 V543.5 A13.6 8.2 0 0 1 702.6 543.5 Z" fill="#1c1c1c" stroke="#1c1c1c" stroke-width="1.5"/>
<ellipse cx="716.2" cy="536" rx="13.6" ry="8.2" fill="#7e7e7e" stroke="#1c1c1c" stroke-width="1.5"/>
<path d="M758.4 543.5 A13.6 8.2 0 0 0 785.6 543.5 V551 A13.6 8.2 0 0 1 758.4 551 Z" fill="#1c1c1c" stroke="#1c1c1c" stroke-width="1.5"/>
<ellipse cx="772" cy="543.5" rx="13.6" ry="8.2" fill="#7e7e7e" stroke="#1c1c1c" stroke-width="1.5"/>
<path d="M723.3 560.3 A13.6 8.2 0 0 0 750.5 560.3 V567.8 A13.6 8.2 0 0 1 723.3 567.8 Z" fill="#1c1c1c" stroke="#1c1c1c" stroke-width="1.5"/>
<ellipse cx="736.9" cy="560.3" rx="13.6" ry="8.2" fill="#7e7e7e" stroke="#1c1c1c" stroke-width="1.5"/>
<polygon points="648.1,482.7 656.3,479.6 706,518.5 706.7,597.5 697.7,596.5 648.1,552.5" fill="#d80b0b" stroke="#1c1c1c" stroke-width="1.7" stroke-linejoin="round"/>
<polygon points="648.1,482.7 656.3,479.6 706,518.5 699.2,522.5" fill="#cf0909" stroke="#1c1c1c" stroke-width="1.3" stroke-linejoin="round"/>
<polygon points="699.2,522.5 706,518.5 706.7,597.5 699.2,596.5" fill="#bd0606" stroke="#1c1c1c" stroke-width="1.3" stroke-linejoin="round"/>
<path d="M653 498.6 L661.5 495.1 A7.6 12.6 0 0 1 661.5 520.3 L653 523.8 A7.6 12.6 0 0 0 653 498.6 Z" fill="#120202" stroke="#1c1c1c" stroke-width="1.4"/>
<ellipse cx="653" cy="511.2" rx="7.6" ry="12.6" fill="#160303" stroke="#1c1c1c" stroke-width="1.4"/>
<ellipse cx="653" cy="511.2" rx="4.7" ry="7.8" fill="none" stroke="#6a0a0a" stroke-width="1.3"/>
<ellipse cx="653" cy="511.2" rx="7.6" ry="12.6" fill="none" stroke="#7a0909" stroke-width="1.5"/>
<path d="M679.5 518.5 L688 515 A7.6 12.6 0 0 1 688 540.2 L679.5 543.7 A7.6 12.6 0 0 0 679.5 518.5 Z" fill="#120202" stroke="#1c1c1c" stroke-width="1.4"/>
<ellipse cx="679.5" cy="531.1" rx="7.6" ry="12.6" fill="#160303" stroke="#1c1c1c" stroke-width="1.4"/>
<ellipse cx="679.5" cy="531.1" rx="4.7" ry="7.8" fill="none" stroke="#6a0a0a" stroke-width="1.3"/>
<ellipse cx="679.5" cy="531.1" rx="7.6" ry="12.6" fill="none" stroke="#7a0909" stroke-width="1.5"/>
<path d="M653 534.3 L661.5 530.8 A7.6 12.6 0 0 1 661.5 556 L653 559.5 A7.6 12.6 0 0 0 653 534.3 Z" fill="#120202" stroke="#1c1c1c" stroke-width="1.4"/>
<ellipse cx="653" cy="546.9" rx="7.6" ry="12.6" fill="#160303" stroke="#1c1c1c" stroke-width="1.4"/>
<ellipse cx="653" cy="546.9" rx="4.7" ry="7.8" fill="none" stroke="#6a0a0a" stroke-width="1.3"/>
<ellipse cx="653" cy="546.9" rx="7.6" ry="12.6" fill="none" stroke="#7a0909" stroke-width="1.5"/>
<path d="M679.5 556.9 L688 553.4 A7.6 12.6 0 0 1 688 578.6 L679.5 582.1 A7.6 12.6 0 0 0 679.5 556.9 Z" fill="#120202" stroke="#1c1c1c" stroke-width="1.4"/>
<ellipse cx="679.5" cy="569.5" rx="7.6" ry="12.6" fill="#160303" stroke="#1c1c1c" stroke-width="1.4"/>
<ellipse cx="679.5" cy="569.5" rx="4.7" ry="7.8" fill="none" stroke="#6a0a0a" stroke-width="1.3"/>
<ellipse cx="679.5" cy="569.5" rx="7.6" ry="12.6" fill="none" stroke="#7a0909" stroke-width="1.5"/>
<g id="turtle">
<rect x="835.6" y="742.6" width="33.4" height="11.4" fill="#f6bf38" stroke="#6a5220" stroke-width="1"/>
<path d="M824 741.5 C836 744 858 744 872 740 L871 733 L826 733 Z" fill="#e9a83a" stroke="#55390c" stroke-width="1" stroke-linejoin="round" stroke-linecap="round"/>
<path d="M823 740 C822 729 830 712 845 707.5 C857 704.5 866 710 869.5 718 C871.5 725 871.5 733 870 740 Z" fill="#eeae2c" stroke="#55390c" stroke-width="1.6" stroke-linejoin="round" stroke-linecap="round"/>
<path d="M833 735 C840 731 852 730 860 732 C864 733 867 735 869 737" fill="none" stroke="#55390c" stroke-width="1.2" stroke-linejoin="round" stroke-linecap="round"/>
<path d="M834 714 C838 709.5 850 706.5 860 709" fill="none" stroke="#4a4038" stroke-width="2" stroke-linejoin="round" stroke-linecap="round"/>
<path d="M838.5 718 C840 714 848 713 850.5 717 C851.5 721 849.5 726 844.5 726.5 C839.5 726.5 837.5 722 838.5 718 Z" fill="#8c877a" stroke="#55390c" stroke-width="1.5" stroke-linejoin="round" stroke-linecap="round"/>
<path d="M853 715 C857 713 862 715 863 718.5 C863 722 859.5 724 855.5 723.5 C852.5 722 851.5 718 853 715 Z" fill="#7f7b70" stroke="#55390c" stroke-width="1.4" stroke-linejoin="round" stroke-linecap="round"/>
<path d="M826 726 C828 719 832 715 836 714 L836.5 724 C832 727 829 728 826 726 Z" fill="#d89b28" stroke="#55390c" stroke-width="1.1" stroke-linejoin="round" stroke-linecap="round"/>
<ellipse cx="826.5" cy="735.5" rx="13" ry="7" fill="#f2b030" stroke="#55390c" stroke-width="1.4" transform="rotate(-14 826.5 735.5)"/>
<ellipse cx="829" cy="734.5" rx="6.5" ry="3.2" fill="none" stroke="#55390c" stroke-width="1" transform="rotate(-14 829 734.5)"/>
<ellipse cx="867.5" cy="732.5" rx="8" ry="7.5" fill="#f6b52e" stroke="#55390c" stroke-width="1.4" transform="rotate(-15 867.5 732.5)"/>
<ellipse cx="885.6" cy="718.5" rx="16.8" ry="15.8" fill="#f7b62c" stroke="#55390c" stroke-width="1.4" transform="rotate(-25 885.6 718.5)"/>
<ellipse cx="880" cy="712" rx="6" ry="3.5" fill="#fde08a" transform="rotate(-25 880 712)"/>
<ellipse cx="891.8" cy="711.2" rx="2.3" ry="3.2" fill="#2a2218" transform="rotate(-20 891.8 711.2)"/>
<path d="M892 723 C895 724 898 723 900 721" fill="none" stroke="#55390c" stroke-width="1" stroke-linejoin="round" stroke-linecap="round"/>
</g>
</svg>
</body></html>
